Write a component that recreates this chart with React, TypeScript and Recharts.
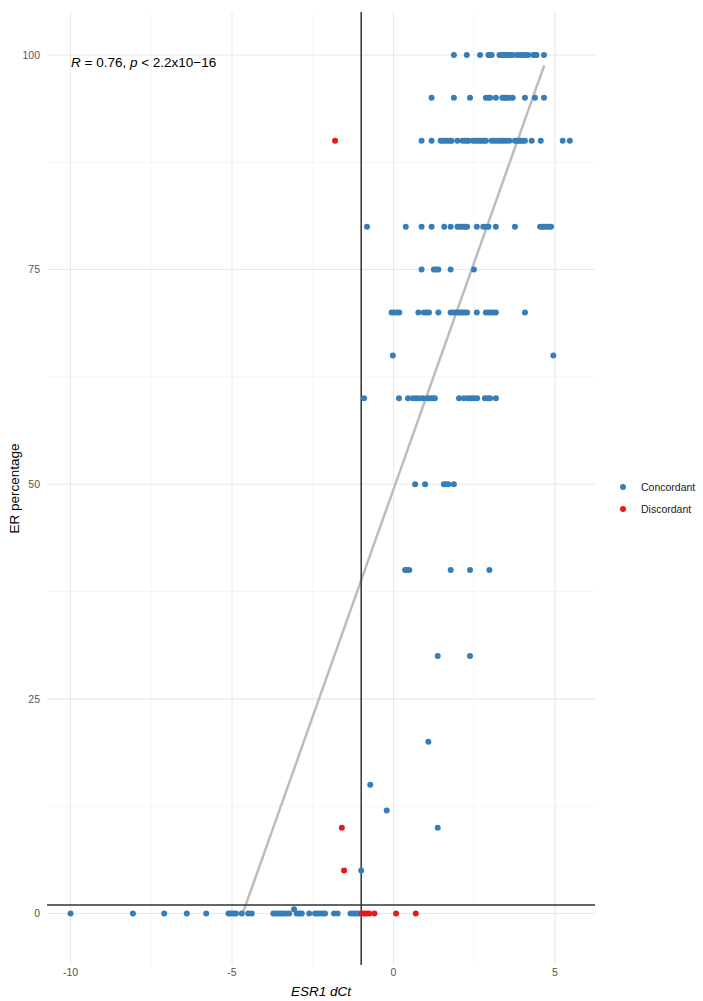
import React from 'react';
import { ScatterChart, Scatter, XAxis, YAxis, CartesianGrid, ReferenceLine, Label } from 'recharts';

const W = 703;
const H = 1001;

// ER percentage rows with their ESR1 dCt values (concordant cases)
const concordantRows: [number, number[]][] = [
  [100, [1.87, 2.27, 2.68, 2.94, 2.99, 3.04, 3.28, 3.35, 3.42, 3.48, 3.56, 3.63, 3.69, 3.83, 3.9, 3.97, 4.04, 4.12, 4.17, 4.33, 4.41, 4.43, 4.66]],
  [95, [1.18, 1.87, 2.37, 2.86, 2.94, 2.99, 3.17, 3.37, 3.42, 3.48, 3.52, 3.59, 3.69, 4.07, 4.38, 4.66]],
  [90, [0.87, 1.18, 1.46, 1.52, 1.59, 1.67, 1.75, 1.8, 1.98, 2.14, 2.21, 2.27, 2.32, 2.45, 2.52, 2.59, 2.66, 2.73, 2.8, 2.86, 3.04, 3.11, 3.19, 3.28, 3.35, 3.42, 3.5, 3.59, 3.76, 3.83, 3.9, 3.94, 4.0, 4.07, 4.28, 4.56, 5.24, 5.46]],
  [80, [-0.82, 0.38, 0.87, 1.18, 1.57, 1.77, 1.98, 2.04, 2.11, 2.18, 2.24, 2.28, 2.58, 2.78, 2.86, 2.94, 3.17, 3.76, 4.54, 4.61, 4.67, 4.74, 4.81, 4.88]],
  [75, [0.87, 1.25, 1.32, 1.39, 1.77, 2.49]],
  [70, [-0.06, 0.02, 0.1, 0.18, 0.77, 0.94, 1.03, 1.1, 1.39, 1.77, 1.85, 1.93, 2.01, 2.08, 2.14, 2.21, 2.28, 2.58, 2.86, 2.94, 3.01, 3.09, 3.17, 4.07]],
  [65, [-0.02, 4.95]],
  [60, [-0.91, 0.17, 0.45, 0.6, 0.7, 0.79, 0.91, 1.04, 1.13, 1.22, 1.28, 2.03, 2.18, 2.31, 2.4, 2.49, 2.59, 2.83, 2.93, 2.99, 3.17]],
  [50, [0.67, 0.98, 1.56, 1.62, 1.7, 1.87]],
  [40, [0.36, 0.41, 0.49, 1.77, 2.37, 2.97]],
  [30, [1.37, 2.37]],
  [20, [1.08]],
  [15, [-0.72]],
  [12, [-0.21]],
  [10, [1.37]],
  [5, [-1.0]],
  [0.5, [-3.08]],
  [0, [-10, -8.07, -7.1, -6.4, -5.8, -5.11, -5.04, -4.96, -4.88, -4.7, -4.5, -4.39, -3.72, -3.64, -3.57, -3.49, -3.41, -3.33, -3.23, -3.0, -2.92, -2.84, -2.61, -2.43, -2.36, -2.28, -2.19, -2.12, -1.84, -1.73, -1.33, -1.24, -1.16, -1.08]],
];

// Discordant cases
const discordantX = [-1.81, -1.6, -1.53, -0.98, -0.91, -0.83, -0.75, -0.59, 0.08, 0.69];
const discordantY = [90, 10, 5, 0, 0, 0, 0, 0, 0, 0];

// Fitted line end points
const fitLine = [
  { x: -4.67, y: 0 },
  { x: 4.67, y: 98.8 },
];

const xTicks = [-10, -5, 0, 5];
const yTicks = [0, 25, 50, 75, 100];
const xMinor = [-7.5, -2.5, 2.5];
const yMinor = [12.5, 37.5, 62.5, 87.5];
const xDomain = [-10.73, 6.24];
const yDomain = [-6, 105];
const vLineX = -1;
const hLineY = 1;

const seriesNames = ['Concordant', 'Discordant'];
const seriesColors = ['#377EB8', '#E41A1C'];

const concordantData = concordantRows.flatMap(([y, xs]) => xs.map((x) => ({ x, y })));
const discordantData = discordantX.map((x, i) => ({ x, y: discordantY[i] }));

const FONT = '"Liberation Sans", Arial, sans-serif';

const makeDot = (color: string) => (props: any) => {
  const { cx, cy } = props;
  if (cx == null || cy == null) return <g />;
  return <circle cx={cx} cy={cy} r={3} fill={color} />;
};

export default function App() {
  return (
    <div style={{ position: 'absolute', left: 0, top: 0, width: W, height: H, background: '#fff', fontFamily: FONT }}>
      <ScatterChart width={W} height={H} margin={{ top: 12, right: 108, bottom: 0, left: 7 }}>
        <CartesianGrid stroke="#f0f0f0" strokeWidth={0.6} verticalValues={xMinor} horizontalValues={yMinor} />
        <CartesianGrid stroke="#e8e8e8" strokeWidth={1.1} verticalValues={xTicks} horizontalValues={yTicks} />
        <XAxis
          type="number"
          dataKey="x"
          domain={xDomain}
          ticks={xTicks}
          allowDataOverflow
          axisLine={false}
          tickLine={false}
          tickSize={0}
          tickMargin={4}
          height={36}
          tick={{ fill: '#555', fontSize: 10.5, fontFamily: FONT }}
        >
          <Label value="ESR1 dCt" position="insideBottom" offset={5} style={{ fontStyle: 'italic', fontSize: 13.5, fill: '#000', fontFamily: FONT }} />
        </XAxis>
        <YAxis
          type="number"
          dataKey="y"
          domain={yDomain}
          ticks={yTicks}
          allowDataOverflow
          axisLine={false}
          tickLine={false}
          tickSize={0}
          tickMargin={7}
          width={40}
          tick={{ fill: '#555', fontSize: 10.5, fontFamily: FONT }}
        >
          <Label value="ER percentage" angle={-90} position="insideLeft" offset={7} style={{ textAnchor: 'middle', fontSize: 13.5, fill: '#000', fontFamily: FONT }} />
        </YAxis>
        <Scatter name={seriesNames[0]} data={concordantData} fill={seriesColors[0]} shape={makeDot(seriesColors[0])} isAnimationActive={false} />
        <Scatter name={seriesNames[1]} data={discordantData} fill={seriesColors[1]} shape={makeDot(seriesColors[1])} isAnimationActive={false} />
        <ReferenceLine segment={fitLine} stroke="#bdbdbd" strokeWidth={2.5} />
        <ReferenceLine x={vLineX} stroke="#333" strokeWidth={1.5} />
        <ReferenceLine y={hLineY} stroke="#333" strokeWidth={1.5} />
      </ScatterChart>
      <div style={{ position: 'absolute', left: 71, top: 54, fontSize: 13.5, color: '#000', whiteSpace: 'nowrap', lineHeight: '18px' }}>
        <i>R</i> = 0.76, <i>p</i> &lt; 2.2x10−16
      </div>
      <div style={{ position: 'absolute', left: 620, top: 476 }}>
        {seriesNames.map((n, i) => (
          <div key={n} style={{ display: 'flex', alignItems: 'center', height: 22 }}>
            <span style={{ display: 'inline-block', width: 6, height: 6, borderRadius: 3, background: seriesColors[i], marginRight: 15 }} />
            <span style={{ fontSize: 10.5, color: '#1a1a1a' }}>{n}</span>
          </div>
        ))}
      </div>
    </div>
  );
}
